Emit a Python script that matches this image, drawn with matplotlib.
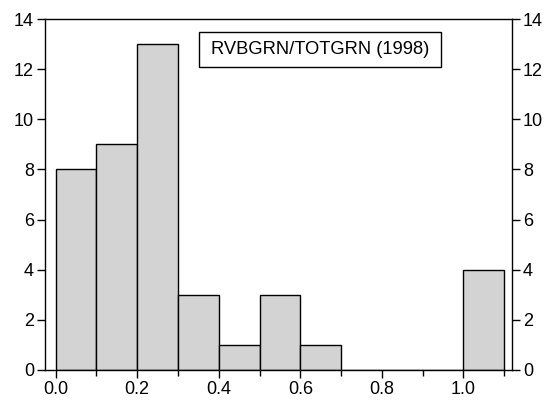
import numpy as np
import matplotlib.pyplot as plt
from matplotlib.patches import Rectangle
from matplotlib.ticker import MultipleLocator

plt.rcParams['font.family'] = ['Liberation Sans', 'DejaVu Sans']

bin_edges = [0.0, 0.1, 0.2, 0.3, 0.4, 0.5, 0.6, 0.7, 0.8, 0.9, 1.0, 1.1]
counts = [8, 9, 13, 3, 1, 3, 1, 0, 0, 0, 4]
label = 'RVBGRN/TOTGRN (1998)'

fig = plt.figure(figsize=(5.53, 4.09), dpi=100)
ax = fig.add_axes([45 / 553, 1 - 370 / 409, 467 / 553, 351 / 409])

left = np.array(bin_edges[:-1])
widths = np.diff(bin_edges)
ax.bar(left, counts, width=widths, align='edge', color='#d3d3d3',
       edgecolor='black', linewidth=1.0)

ax.set_xlim(-0.026, 1.119)
ax.set_ylim(0, 14)
ax.xaxis.set_major_locator(MultipleLocator(0.2))
ax.xaxis.set_minor_locator(MultipleLocator(0.1))
ax.yaxis.set_major_locator(MultipleLocator(2))
ax.xaxis.set_major_formatter(plt.FuncFormatter(lambda v, p: '%.1f' % v))

ax.tick_params(axis='both', which='major', direction='out', length=6,
               labelsize=13, width=1, pad=2)
ax.tick_params(axis='x', which='minor', direction='out', length=4, width=1)
ax.tick_params(axis='y', right=True, labelright=True)
for s in ax.spines.values():
    s.set_linewidth(1.0)

# legend-like label box
ax.add_patch(Rectangle((0.330, 0.863), 0.518, 0.100, transform=ax.transAxes,
                       facecolor='white', edgecolor='black', linewidth=1.0,
                       zorder=5))
ax.text(0.589, 0.913, label, transform=ax.transAxes, ha='center', va='center',
        fontsize=13.2, zorder=6)

fig.savefig('out.png', dpi=100)
